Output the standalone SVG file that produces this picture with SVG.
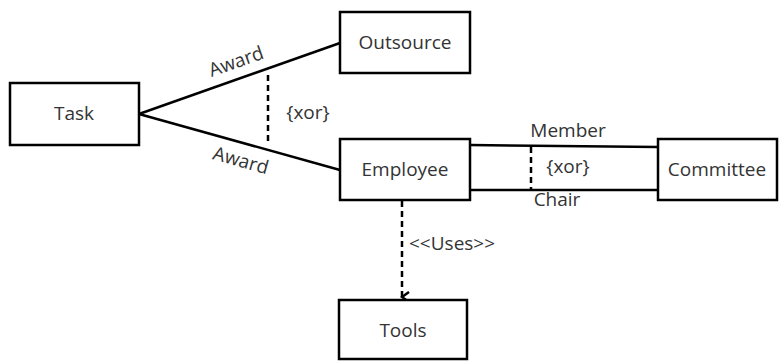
<svg xmlns="http://www.w3.org/2000/svg" width="779" height="361" viewBox="0 0 779 361">
<style>
.box{fill:#fff;stroke:#000;stroke-width:2.5}
.ln{fill:none;stroke:#000;stroke-width:2.5}
.dash{fill:none;stroke:#000;stroke-width:2.5;stroke-dasharray:6,4}
text{font-family:"Open Sans","Liberation Sans",sans-serif;font-size:19px;fill:#333}
.c{text-anchor:middle;dominant-baseline:central}
</style>
<defs>
<marker id="arr" viewBox="0 0 12 12" refX="6" refY="10" markerWidth="12" markerHeight="12" markerUnits="userSpaceOnUse" orient="auto-start-reverse">
<path d="M1,3 L6,10 L11,3" fill="none" stroke="#000" stroke-width="2.5"/>
</marker>
</defs>
<rect width="779" height="361" fill="#fff"/>
<g id="connectors">
<line class="ln" x1="139" y1="114" x2="340" y2="43"/>
<line class="ln" x1="139" y1="114" x2="340" y2="170"/>
<line class="dash" x1="268" y1="75" x2="268" y2="145"/>
<text class="c" x="308" y="112">{xor}</text>
<text class="c" transform="translate(236,61) rotate(-19.5)">Award</text>
<text class="c" transform="translate(241,160) rotate(15.6)">Award</text>
<line class="ln" x1="470" y1="145" x2="658" y2="147"/>
<line class="ln" x1="470" y1="190" x2="658" y2="190"/>
<line class="dash" x1="531" y1="147" x2="531" y2="190"/>
<text class="c" x="568" y="130">Member</text>
<text class="c" x="568" y="166">{xor}</text>
<text class="c" x="557" y="199">Chair</text>
<line class="dash" x1="402" y1="201" x2="402" y2="297" marker-end="url(#arr)"/>
<text x="409" y="250">&lt;&lt;Uses&gt;&gt;</text>
</g>
<g id="task"><rect class="box" x="10" y="83" width="129" height="62"/><text class="c" x="74" y="113">Task</text></g>
<g id="outsource"><rect class="box" x="340" y="12" width="130" height="61"/><text class="c" x="405" y="42">Outsource</text></g>
<g id="employee"><rect class="box" x="340" y="139" width="130" height="61"/><text class="c" x="405" y="169">Employee</text></g>
<g id="committee"><rect class="box" x="658" y="139" width="119" height="61"/><text class="c" x="717" y="169">Committee</text></g>
<g id="tools"><rect class="box" x="339" y="300" width="128" height="59"/><text class="c" x="403" y="330">Tools</text></g>
</svg>
